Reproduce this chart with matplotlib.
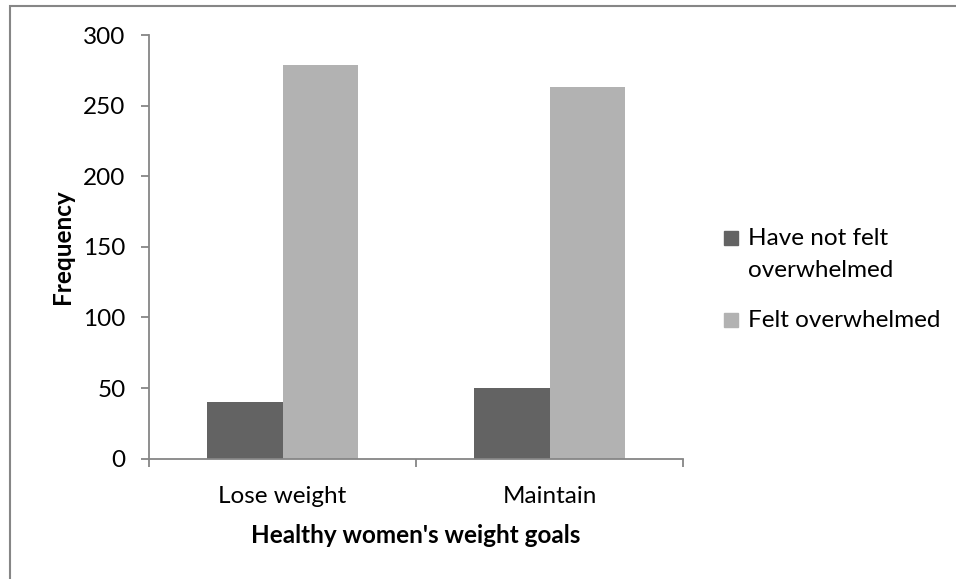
import matplotlib
matplotlib.use('Agg')
import matplotlib.pyplot as plt
from matplotlib.patches import Rectangle

plt.rcParams['font.family'] = ['Lato', 'DejaVu Sans']

# weight goal groups and counts per response
categories = ['Lose weight', 'Maintain']
series_names = ['Have not felt\noverwhelmed', 'Felt overwhelmed']
not_overwhelmed = [40, 50]
felt_overwhelmed = [279, 263]
y_ticks = [0, 50, 100, 150, 200, 250, 300]

dark = '#636363'
light = '#b2b2b2'
axis_gray = '#868686'
fs = 17.5

W, H = 956, 579
fig = plt.figure(figsize=(W / 100, H / 100), dpi=100)


def fx(px):
    return px / W


def fy(py):
    return 1 - py / H


# outer chart frame (only top and left edges fall inside the image)
fig.patches.append(Rectangle((fx(9.5), -0.1), 1.2, fy(6) + 0.1,
                             transform=fig.transFigure, fill=False,
                             edgecolor=axis_gray, linewidth=1.5))

ax = fig.add_axes([fx(149), fy(458.7), fx(683 - 149), (458.7 - 35) / H])

x = list(range(len(categories)))
bw = 0.284
ax.bar([i - bw / 2 for i in x], not_overwhelmed, width=bw, color=dark)
ax.bar([i + bw / 2 for i in x], felt_overwhelmed, width=bw, color=light)

ax.set_xlim(-0.5, len(categories) - 0.5)
ax.set_ylim(0, 300)
ax.set_yticks(y_ticks)
ax.set_xticks(x)
ax.set_xticklabels(categories)
ax.set_xticks([i - 0.5 for i in range(len(categories) + 1)], minor=True)

for s in ['top', 'right']:
    ax.spines[s].set_visible(False)
for s in ['left', 'bottom']:
    ax.spines[s].set_color(axis_gray)
    ax.spines[s].set_linewidth(1.3)

ax.tick_params(axis='y', length=5.8, width=1.3, color=axis_gray, pad=11,
               labelsize=fs)
ax.tick_params(axis='x', which='major', length=0, pad=20, labelsize=fs)
ax.tick_params(axis='x', which='minor', length=5.8, width=1.3,
               color=axis_gray)

fig.text(fx(416), fy(543), "Healthy women's weight goals",
         ha='center', va='baseline', fontsize=fs, fontweight='bold')
fig.text(fx(62), fy(247), 'Frequency', ha='center', va='center',
         rotation=90, fontsize=fs, fontweight='bold')

# legend: square sits on the baseline of the first text line
colors = [dark, light]
legend_base = [245, 327]
line_gap = 32
for name, c, base in zip(series_names, colors, legend_base):
    fig.patches.append(Rectangle((fx(724), fy(base)), 14 / W, 14 / H,
                                 transform=fig.transFigure, color=c))
    for k, line in enumerate(name.split('\n')):
        fig.text(fx(748), fy(base + k * line_gap), line, ha='left',
                 va='baseline', fontsize=fs)

fig.savefig('out.png', dpi=100)
